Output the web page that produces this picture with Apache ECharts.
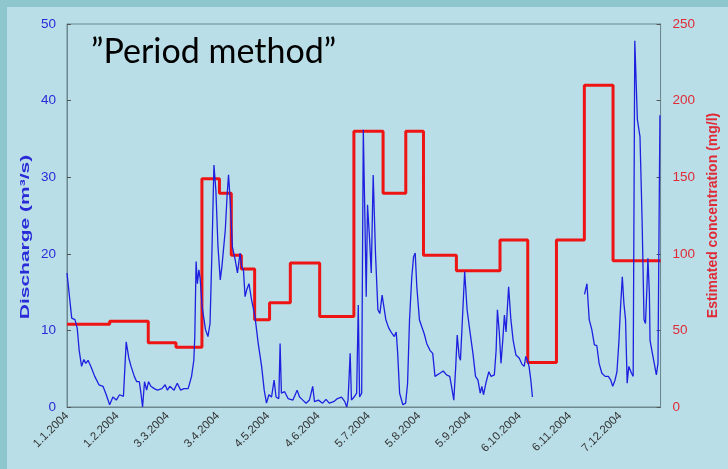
<!DOCTYPE html>
<html>
<head>
<meta charset="utf-8">
<script src="https://cdn.jsdelivr.net/npm/echarts@6/dist/echarts.min.js"></script>
<style>
html,body{margin:0;padding:0;background:#b9dee8;}
#chart{width:728px;height:469px;}
</style>
</head>
<body>
<div id="chart"></div>
<script>
// ---- data (day index from 1.1.2004) ----
const xTickLabels = ['1.1.2004','1.2.2004','3.3.2004','3.4.2004','4.5.2004','4.6.2004','5.7.2004','5.8.2004','5.9.2004','6.10.2004','6.11.2004','7.12.2004'];
const dischargeTicks = [0,10,20,30,40,50];
const concTicks = [0,50,100,150,200,250];

const dischargeDays = [0,2.9,4.9,6.3,7.5,9,10.4,11.6,13,15.1,17.1,19.7,22.2,24.2,26.3,28.3,30.4,32.4,34.8,36.5,38.1,39.5,41.5,43,44.6,45.6,46.6,47.8,49.1,50.3,51.7,53.8,55.8,58.5,60.5,61.9,63.4,66,68,70.1,72.1,74.7,76.8,78.2,78.8,79.6,80.4,81.3,82.1,83.3,85.4,86.9,88.2,89.4,90.6,91.8,93.1,94.5,95.5,97.6,98.8,99.6,100.6,102,103.7,105.1,106.7,107.7,108.8,109.8,110.8,112.2,113.8,115.9,117.9,120,121.6,123,124.5,126.1,127.7,128.9,130.6,131.4,132.2,134.2,136.3,139.3,141.9,143.4,145.4,147.4,149.5,151.5,152.6,155,157.6,159.7,161.7,164.4,166.8,169.3,171.3,172.5,173.3,174.6,175.4,177,178.6,179.6,180.4,181.7,182.7,183.7,184.5,185.3,186.6,187.6,188.8,190.2,191.7,192.9,194.3,195.3,196.6,198.4,200.4,201.8,203,203.9,205.1,207.1,208.8,210,211.2,212.6,213.7,214.7,215.7,217.3,218.7,220.2,221.8,223.8,225.5,226.9,229.9,232,234,236,237.1,238.5,239.7,240.6,241.8,242.6,243.8,245.2,246.7,248.3,250.3,251.9,253.4,254.8,255.8,256.8,258.5,260.1,261.5,263.5,264.6,265.4,266.6,267.6,268.7,269.7,270.7,272.3,273.7,275.1,276.8,278.8,280.5,281.9,282.9,283.9,284.9,286,287,300,319.1,320.6,322,323.6,325.2,326.7,328.1,329.8,331.8,333.8,335.3,336.5,337.9,339.1,340.3,341.1,342.4,343.4,344.4,345.4,346.4,348.1,349.1,350.1,351.7,353.3,354.6,355.8,356.7,357.6,358.2,359.1,359.5,361.3,363.4,364.4,365.6];
const dischargeValues = [17.5,11.6,11.4,10.3,7.4,5.3,6.2,5.7,6.1,5.1,4.0,2.9,2.7,1.6,0.3,1.3,0.9,1.6,1.4,8.5,6.4,5.3,4.0,3.3,3.3,1.8,0.0,3.3,2.2,3.3,2.7,2.4,2.2,2.4,2.9,2.2,2.7,2.2,3.1,2.2,2.4,2.4,4.0,6.1,9.2,19.0,16.1,17.9,16.8,13.1,10.1,9.2,10.9,20.5,31.6,28.3,20.9,16.6,18.3,23.1,27.9,30.3,27.0,20.9,19.2,17.5,20.1,18.3,17.9,14.4,15.3,16.1,14.0,11.8,8.3,5.3,2.2,0.5,1.6,1.3,3.5,1.3,1.1,8.3,1.8,2.0,1.1,0.9,2.2,1.3,0.9,0.5,0.9,2.7,0.7,0.9,0.5,1.0,0.5,0.7,1.1,1.3,0.7,0.0,0.9,7.0,0.9,1.3,1.8,13.3,1.3,1.8,36.2,24.4,14.4,26.4,21.8,17.5,30.3,20.1,12.7,12.2,14.6,14.4,11.4,10.3,9.6,9.2,9.8,7.0,1.8,0.3,0.5,3.1,11.4,17.0,19.6,20.1,15.7,11.4,10.5,9.6,8.3,7.4,7.0,4.0,4.4,4.7,4.2,4.0,2.7,0.9,5.3,9.4,6.6,6.1,11.4,17.7,12.7,10.1,7.0,4.0,3.5,1.8,2.7,1.6,3.3,4.6,4.0,4.2,7.4,12.7,9.6,5.7,8.7,12.0,9.8,15.7,11.4,8.7,6.8,6.4,5.6,5.3,6.6,6.1,5.3,3.5,1.3,null,14.7,16.1,11.4,10.1,8.1,8.0,5.7,4.4,4.0,4.0,3.5,2.7,3.5,4.6,8.5,12.2,17.0,13.5,11.4,3.1,5.3,4.4,4.0,47.8,37.5,35.3,24.4,11.4,10.9,15.7,19.4,14.8,8.7,6.6,4.2,5.7,38.1];

const concStartDays = [0,26.3,50.1,67.2,83.2,94.0,101.3,107.5,115.7,124.9,137.7,155.8,176.9,194.9,208.9,219.8,240.1,267.0,284.1,301.8,319.0,336.7];
const concValues = [54,56,42,39,149,139.5,99,90,57,68,94,59,180,139.5,180,99,89,109,29,109,210,95.5];
const xMaxDay = 366;

// ---- chart ----
const chart = echarts.init(document.getElementById('chart'));
const dischargeData = dischargeDays.map((d,i)=>[d, dischargeValues[i] === null ? '-' : dischargeValues[i]]);
const concData = concStartDays.map((d,i)=>[d, concValues[i]]);
concData.push([xMaxDay, concValues[concValues.length-1]]);

const axisGray = '#6d8890';
const blue = '#1f1fe0';
const red = '#ee1414';

chart.setOption({
  backgroundColor: '#b9dee8',
  animation: false,
  title: {
    text: '\u201DPeriod method\u201D',
    left: 86, top: 30,
    textStyle: {fontFamily: 'Lato', fontSize: 34, fontWeight: 'normal', color: '#000'}
  },
  graphic: [
    {type:'rect', shape:{x:0,y:0,width:728,height:7}, style:{fill:'#8dc7cd'}, silent:true},
    {type:'rect', shape:{x:0,y:0,width:7,height:469}, style:{fill:'#8dc7cd'}, silent:true},
    {type:'text', x:26, y:237, rotation:Math.PI/2, scaleX:1.75, scaleY:1,
     style:{text:'Discharge (m\u00B3/s)', font:'bold 12px "Liberation Sans"', fill:'#2a2ad8', align:'center', verticalAlign:'middle'}}
  ],
  grid: {left: 67, top: 24, right: 62, bottom: 62, show: true, borderColor: axisGray, borderWidth: 1, backgroundColor: 'transparent'},
  xAxis: {
    type: 'value', min: 0, max: xMaxDay, interval: 31,
    axisLine: {show: true, lineStyle: {color: axisGray}},
    axisTick: {show: false},
    splitLine: {show: false},
    axisLabel: {
      rotate: 45, margin: 7, fontSize: 11.5, color: '#333', fontFamily: 'Liberation Sans',
      showMaxLabel: false,
      formatter: v => { const i = Math.round(v/31); return (Math.abs(v - i*31) < 0.01 && xTickLabels[i]) ? xTickLabels[i] : ''; }
    }
  },
  yAxis: [
    {
      type: 'value', min: dischargeTicks[0], max: dischargeTicks[dischargeTicks.length-1], interval: 10, position: 'left',
      axisLine: {show: true, lineStyle: {color: axisGray}},
      axisTick: {show: true, inside: true, length: 4, lineStyle: {color: '#555'}},
      splitLine: {show: false},
      axisLabel: {color: '#2a2ad8', fontSize: 13.5, fontFamily: 'Liberation Sans', margin: 11}
    },
    {
      type: 'value', min: concTicks[0], max: concTicks[concTicks.length-1], interval: 50, position: 'right',
      name: 'Estimated concentration (mg/l)', nameLocation: 'middle', nameGap: 42, nameRotate: 90,
      nameTextStyle: {color: '#e02a36', fontSize: 14, fontWeight: 'bold', fontFamily: 'Liberation Sans'},
      axisLine: {show: true, lineStyle: {color: axisGray}},
      axisTick: {show: true, inside: true, length: 4, lineStyle: {color: '#555'}},
      splitLine: {show: false},
      axisLabel: {color: '#e02a36', fontSize: 13.5, fontFamily: 'Liberation Sans', margin: 12}
    }
  ],
  series: [
    {
      name: 'Estimated concentration', type: 'line', yAxisIndex: 1, step: 'end',
      data: concData, showSymbol: false, symbol: 'none',
      lineStyle: {color: red, width: 3}, z: 2
    },
    {
      name: 'Discharge', type: 'line', yAxisIndex: 0,
      data: dischargeData, showSymbol: false, symbol: 'none', connectNulls: false,
      lineStyle: {color: blue, width: 1.3}, z: 3
    }
  ]
});
</script>
</body>
</html>
